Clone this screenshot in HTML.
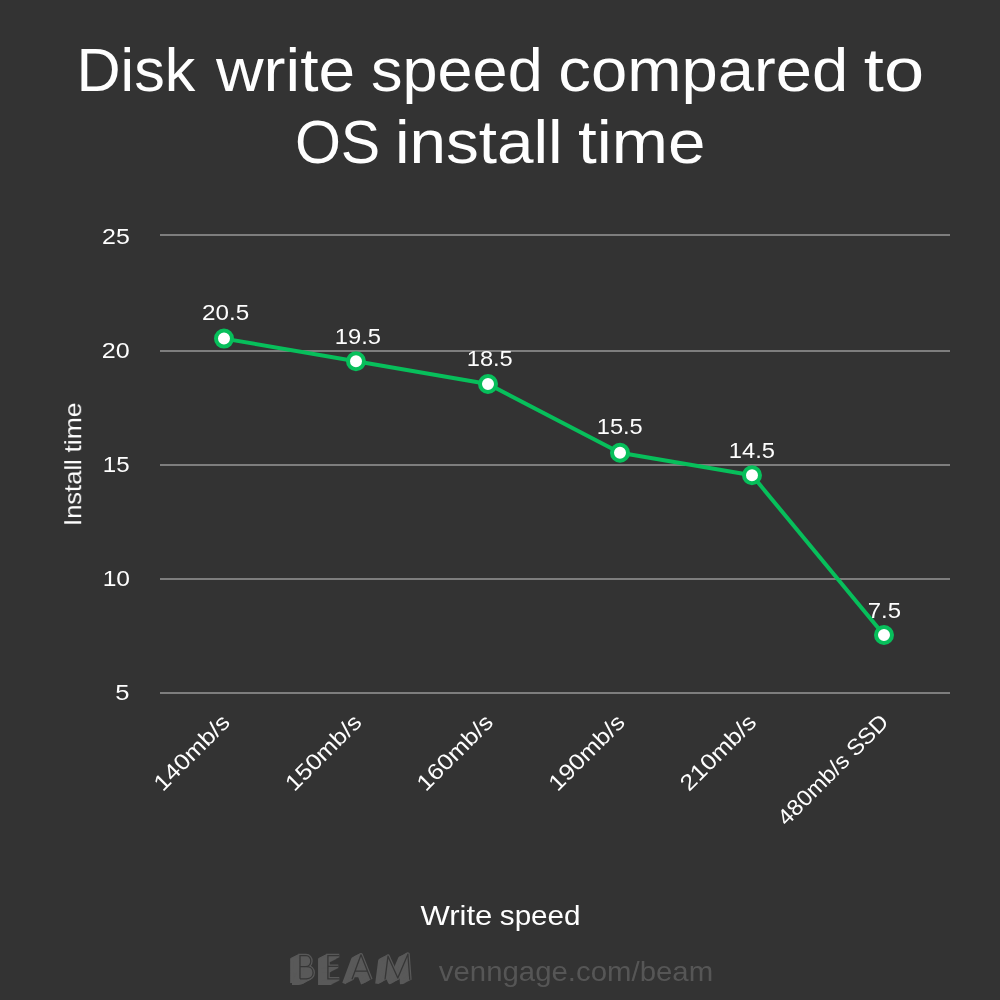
<!DOCTYPE html>
<html><head><meta charset="utf-8"><title>Disk write speed compared to OS install time</title>
<style>
html,body{margin:0;padding:0;background:#333333;}
body{width:1000px;height:1000px;overflow:hidden;}
svg{display:block;}
svg text{font-family:"Liberation Sans", sans-serif;fill:#ffffff;}
svg text.u{fill:#575757;}
</style></head>
<body>
<svg width="1000" height="1000" viewBox="0 0 1000 1000">
<rect x="0" y="0" width="1000" height="1000" fill="#333333"/>
<rect x="160" y="234" width="790" height="2" fill="#7e7e7e"/>
<rect x="160" y="350" width="790" height="2" fill="#7e7e7e"/>
<rect x="160" y="464" width="790" height="2" fill="#7e7e7e"/>
<rect x="160" y="578" width="790" height="2" fill="#7e7e7e"/>
<rect x="160" y="692" width="790" height="2" fill="#7e7e7e"/>
<polyline fill="none" stroke="#07bf5b" stroke-width="4" stroke-linejoin="round" points="224,338.6 356,361.2 488,384 620,452.7 752,475.2 884,635"/>
<circle cx="224" cy="338.6" r="8" fill="#ffffff" stroke="#07bf5b" stroke-width="4"/>
<circle cx="356" cy="361.2" r="8" fill="#ffffff" stroke="#07bf5b" stroke-width="4"/>
<circle cx="488" cy="384" r="8" fill="#ffffff" stroke="#07bf5b" stroke-width="4"/>
<circle cx="620" cy="452.7" r="8" fill="#ffffff" stroke="#07bf5b" stroke-width="4"/>
<circle cx="752" cy="475.2" r="8" fill="#ffffff" stroke="#07bf5b" stroke-width="4"/>
<circle cx="884" cy="635" r="8" fill="#ffffff" stroke="#07bf5b" stroke-width="4"/>
<g opacity="0.999">
<text y="91" font-size="61.3"><tspan x="76.48" textLength="118.84" lengthAdjust="spacingAndGlyphs">Disk</tspan> <tspan x="216" textLength="139.2" lengthAdjust="spacingAndGlyphs">write</tspan> <tspan x="371.05" textLength="171.64" lengthAdjust="spacingAndGlyphs">speed</tspan> <tspan x="558.3" textLength="289.93" lengthAdjust="spacingAndGlyphs">compared</tspan> <tspan x="863.85" textLength="60.25" lengthAdjust="spacingAndGlyphs">to</tspan></text>
<text y="163.2" font-size="61.3"><tspan x="294.88" textLength="85.42" lengthAdjust="spacingAndGlyphs">OS</tspan> <tspan x="395" textLength="167.68" lengthAdjust="spacingAndGlyphs">install</tspan> <tspan x="578" textLength="127.44" lengthAdjust="spacingAndGlyphs">time</tspan></text>
<text x="102.04" y="244.1" font-size="22.3" textLength="27.75" lengthAdjust="spacingAndGlyphs">25</text>
<text x="101.79" y="358.1" font-size="22.3" textLength="27.91" lengthAdjust="spacingAndGlyphs">20</text>
<text x="102.81" y="472.1" font-size="22.3" textLength="26.81" lengthAdjust="spacingAndGlyphs">15</text>
<text x="102.68" y="586.1" font-size="22.3" textLength="27.37" lengthAdjust="spacingAndGlyphs">10</text>
<text x="115.29" y="700.1" font-size="22.3" textLength="14.26" lengthAdjust="spacingAndGlyphs">5</text>
<text x="202.03" y="320.1" font-size="22.3" textLength="47.17" lengthAdjust="spacingAndGlyphs">20.5</text>
<text x="334.85" y="344.1" font-size="22.3" textLength="46.21" lengthAdjust="spacingAndGlyphs">19.5</text>
<text x="466.78" y="366.1" font-size="22.3" textLength="45.98" lengthAdjust="spacingAndGlyphs">18.5</text>
<text x="596.78" y="434.1" font-size="22.3" textLength="45.98" lengthAdjust="spacingAndGlyphs">15.5</text>
<text x="728.85" y="458.1" font-size="22.3" textLength="46.21" lengthAdjust="spacingAndGlyphs">14.5</text>
<text x="867.82" y="618.1" font-size="22.3" textLength="33.26" lengthAdjust="spacingAndGlyphs">7.5</text>
<text y="924.6" font-size="27.8"><tspan x="420.46" textLength="71.97" lengthAdjust="spacingAndGlyphs">Write</tspan> <tspan x="499.82" textLength="80.79" lengthAdjust="spacingAndGlyphs">speed</tspan></text>
<text class="u" x="438.84" y="981.3" font-size="27.8" textLength="274.33" lengthAdjust="spacingAndGlyphs">venngage.com/beam</text>
<text transform="translate(81.2,0) rotate(-90)" font-size="23.8"><tspan x="-525.95" textLength="66.66" lengthAdjust="spacingAndGlyphs">Install</tspan> <tspan x="-452.56" textLength="50.15" lengthAdjust="spacingAndGlyphs">time</tspan></text>
<text transform="translate(231.3,723.61) rotate(-45)" text-anchor="end" font-size="22.3" textLength="97.12" lengthAdjust="spacingAndGlyphs">140mb/s</text>
<text transform="translate(889.88,723.38) rotate(-45)" text-anchor="end" font-size="22.3" textLength="146.15" lengthAdjust="spacingAndGlyphs">480mb/s SSD</text>
<text transform="translate(362.9,723.61) rotate(-45)" text-anchor="end" font-size="22.3" textLength="97.12" lengthAdjust="spacingAndGlyphs">150mb/s</text>
<text transform="translate(494.5,723.61) rotate(-45)" text-anchor="end" font-size="22.3" textLength="97.12" lengthAdjust="spacingAndGlyphs">160mb/s</text>
<text transform="translate(626.1,723.61) rotate(-45)" text-anchor="end" font-size="22.3" textLength="97.12" lengthAdjust="spacingAndGlyphs">190mb/s</text>
<text transform="translate(757.7,723.61) rotate(-45)" text-anchor="end" font-size="22.3" textLength="97.12" lengthAdjust="spacingAndGlyphs">210mb/s</text>
</g>
<defs><g id="b1"><path d="M300,978.8 V955.7 H306 C312.5,955.7 312.5,966.6 305.5,966.6 H300 M305.5,966.6 H306.5 C315.3,966.6 315.3,978.8 306.5,978.8 H300" fill="inherit"/><path d="M339.3,955.7 H327.9 V978.8 H339.3 M327.9,966.3 H338.3" fill="none"/></g><path id="b2" d="M352,979.2 L361,954.8 L370.8,979.4 M355.2,971.2 H367.8 M385,979.5 L388,956.2 L397.8,978 L407.9,954.2 L409.8,979.8" fill="none"/></defs>
<g fill="#595959" stroke="#595959" stroke-width="3.7"><g stroke-linejoin="miter"><use href="#b1" x="-0.00" y="0.00"/><use href="#b1" x="-1.00" y="0.54"/><use href="#b1" x="-2.00" y="1.07"/><use href="#b1" x="-3.00" y="1.61"/><use href="#b1" x="-4.00" y="2.15"/><use href="#b1" x="-5.00" y="2.69"/><use href="#b1" x="-6.00" y="3.22"/><use href="#b1" x="-7.00" y="3.76"/><use href="#b1" x="-8.00" y="4.30"/></g><g stroke-linejoin="round"><use href="#b2" x="-0.00" y="0.00"/><use href="#b2" x="-1.00" y="0.54"/><use href="#b2" x="-2.00" y="1.07"/><use href="#b2" x="-3.00" y="1.61"/><use href="#b2" x="-4.00" y="2.15"/><use href="#b2" x="-5.00" y="2.69"/><use href="#b2" x="-6.00" y="3.22"/><use href="#b2" x="-7.00" y="3.76"/><use href="#b2" x="-8.00" y="4.30"/></g></g>
<g fill="#595959" stroke="#363636" stroke-width="1.3"><use href="#b1"/><use href="#b2" stroke-linejoin="round"/></g>
</svg>
</body></html>
